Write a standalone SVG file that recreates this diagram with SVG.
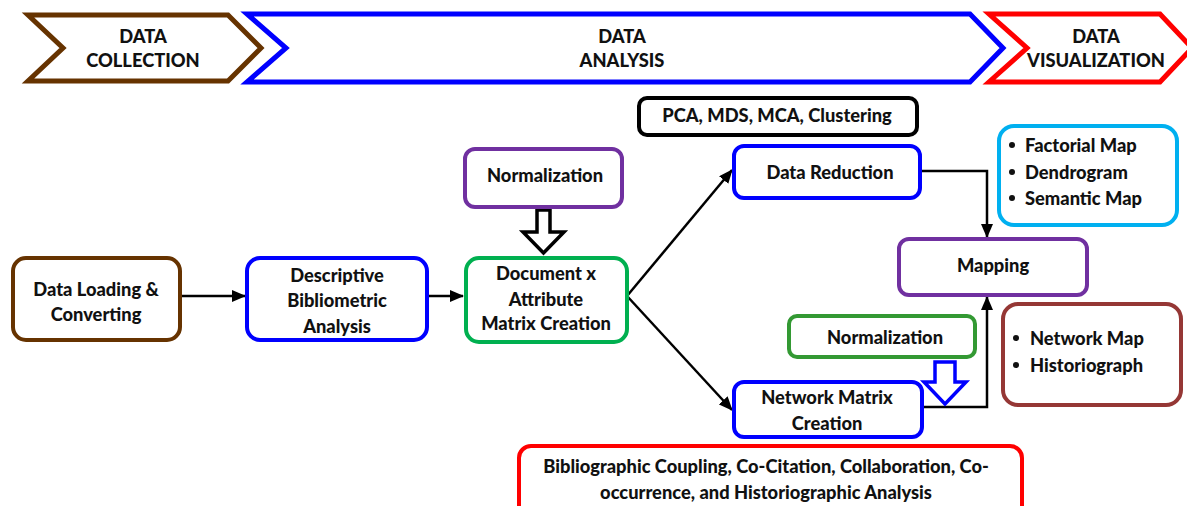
<svg xmlns="http://www.w3.org/2000/svg" width="1187" height="506" viewBox="0 0 1187 506">
<style>
text{font-family:Lato,"Liberation Sans",sans-serif;font-weight:900;font-size:18.3px;fill:#111;dominant-baseline:central}
.c{text-anchor:middle}
.box{fill:#fff;stroke-width:4}
.chev{fill:#fff;stroke-width:5}
.ln{fill:none;stroke:#000;stroke-width:2.5}
</style>
<defs>
<marker id="ah" markerWidth="14" markerHeight="12" refX="13" refY="6" orient="auto" markerUnits="userSpaceOnUse">
<path d="M0,0 L14,6 L0,12 Z" fill="#000"/>
</marker>
</defs>
<g id="stage-collection">
<path class="chev" stroke="#663300" d="M28,15 L228,15 L261,48 L228,81 L28,81 L63,48 Z"/>
<text class="c" x="143" y="36">DATA</text>
<text class="c" x="143" y="60">COLLECTION</text>
</g>
<g id="stage-analysis">
<path class="chev" stroke="#0000FF" d="M247,14 L970,14 L1003,48 L970,82 L247,82 L286,48 Z"/>
<text class="c" x="622" y="36">DATA</text>
<text class="c" x="622" y="60">ANALYSIS</text>
</g>
<g id="stage-visualization">
<path class="chev" stroke="#FF0000" d="M989,14 L1160,14 L1192,48 L1160,82 L989,82 L1027,48 Z"/>
<text class="c" x="1096" y="36">DATA</text>
<text class="c" x="1096" y="60">VISUALIZATION</text>
</g>
<g id="connectors">
<line class="ln" x1="180" y1="296" x2="245" y2="296" marker-end="url(#ah)"/>
<line class="ln" x1="427" y1="296" x2="463" y2="296" marker-end="url(#ah)"/>
<line class="ln" x1="627" y1="296" x2="732" y2="170" marker-end="url(#ah)"/>
<line class="ln" x1="627" y1="296" x2="732" y2="410" marker-end="url(#ah)"/>
<polyline class="ln" points="920,171 987,171 987,237" marker-end="url(#ah)"/>
<polyline class="ln" points="922,407 987,407 987,297" marker-end="url(#ah)"/>
<path d="M537,210 L550,210 L550,232 L564,232 L543.5,253 L523,232 L537,232 Z" fill="#fff" stroke="#000" stroke-width="3.5"/>
<path d="M935,362 L955,362 L955,382 L966,382 L945,404 L924,382 L935,382 Z" fill="#fff" stroke="#0000FF" stroke-width="3.5"/>
</g>
<g id="n-loading">
<rect class="box" stroke="#663300" x="13" y="258" width="167" height="82" rx="13"/>
<text class="c" x="96" y="289">Data Loading &amp;</text>
<text class="c" x="96" y="314">Converting</text>
</g>
<g id="n-descriptive">
<rect class="box" stroke="#0000FF" x="247" y="258" width="180" height="82" rx="13"/>
<text class="c" x="337" y="275">Descriptive</text>
<text class="c" x="337" y="300">Bibliometric</text>
<text class="c" x="337" y="326">Analysis</text>
</g>
<g id="n-normalization1">
<rect class="box" stroke="#7030A0" x="465" y="149" width="157" height="58" rx="10"/>
<text class="c" x="545" y="175">Normalization</text>
</g>
<g id="n-document">
<rect class="box" stroke="#00B050" x="466" y="258" width="161" height="84" rx="13"/>
<text class="c" x="546" y="273">Document x</text>
<text class="c" x="546" y="299">Attribute</text>
<text class="c" x="546" y="323">Matrix Creation</text>
</g>
<g id="n-pca">
<rect class="box" stroke="#000" x="639" y="98" width="278" height="37" rx="8"/>
<text class="c" x="777" y="115">PCA, MDS, MCA, Clustering</text>
</g>
<g id="n-reduction">
<rect class="box" stroke="#0000FF" x="734" y="146" width="186" height="52" rx="10"/>
<text class="c" x="830" y="172">Data Reduction</text>
</g>
<g id="n-factorial">
<rect class="box" stroke="#00B0F0" x="999" y="126" width="178" height="99" rx="15"/>
<circle cx="1012" cy="145" r="3" fill="#111"/>
<circle cx="1012" cy="172" r="3" fill="#111"/>
<circle cx="1012" cy="198" r="3" fill="#111"/>
<text x="1025" y="145">Factorial Map</text>
<text x="1025" y="172">Dendrogram</text>
<text x="1025" y="198">Semantic Map</text>
</g>
<g id="n-mapping">
<rect class="box" stroke="#7030A0" x="899" y="239" width="188" height="56" rx="10"/>
<text class="c" x="993" y="265">Mapping</text>
</g>
<g id="n-normalization2">
<rect class="box" stroke="#339933" x="789" y="316" width="186" height="41" rx="8"/>
<text class="c" x="885" y="337">Normalization</text>
</g>
<g id="n-network">
<rect class="box" stroke="#0000FF" x="734" y="382" width="188" height="55" rx="10"/>
<text class="c" x="827" y="397">Network Matrix</text>
<text class="c" x="827" y="423">Creation</text>
</g>
<g id="n-networkmap">
<rect class="box" stroke="#953735" x="1003" y="304" width="178" height="101" rx="15"/>
<circle cx="1016" cy="338" r="3" fill="#111"/>
<circle cx="1016" cy="365" r="3" fill="#111"/>
<text x="1030" y="338">Network Map</text>
<text x="1030" y="365">Historiograph</text>
</g>
<g id="n-coupling">
<rect class="box" stroke="#FF0000" x="519" y="446" width="503" height="80" rx="12"/>
<text class="c" x="766" y="466">Bibliographic Coupling, Co-Citation, Collaboration, Co-</text>
<text class="c" x="766" y="492">occurrence, and Historiographic Analysis</text>
</g>
</svg>
